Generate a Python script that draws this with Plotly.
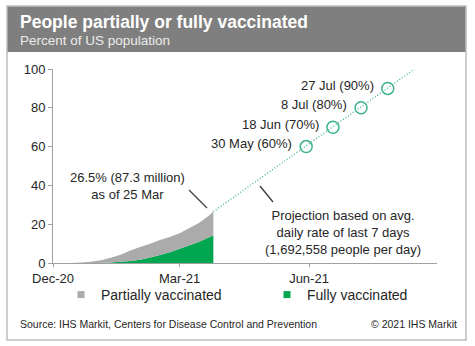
import plotly.graph_objects as go

# ---- data ----
dates = ["2020-12-14", "2020-12-21", "2020-12-28", "2021-01-04", "2021-01-11", "2021-01-18",
         "2021-01-25", "2021-02-01", "2021-02-08", "2021-02-15", "2021-02-22", "2021-03-01",
         "2021-03-08", "2021-03-15", "2021-03-22", "2021-03-25"]
total_pct = [0.0, 0.2, 0.6, 1.4, 2.7, 4.3, 6.5, 8.3, 9.9, 11.9, 13.4, 15.3, 18.0, 20.7, 24.5, 26.5]
fully_pct = [0.0, 0.0, 0.0, 0.0, 0.2, 0.6, 1.0, 1.7, 2.8, 4.1, 5.5, 7.4, 9.2, 11.0, 13.3, 14.3]
partial_pct = [round(t - f, 2) for t, f in zip(total_pct, fully_pct)]

proj_dates = ["2021-03-25", "2021-08-15"]
proj_pct = [26.5, 100]

milestone_dates = ["2021-05-30", "2021-06-18", "2021-07-08", "2021-07-27"]
milestone_pct = [60, 70, 80, 90]
milestone_labels = ["30 May (60%)", "18 Jun (70%)", "8 Jul (80%)", "27 Jul (90%)"]

x_tick_dates = ["2020-12-01", "2021-03-01", "2021-06-01"]
x_tick_text = ["Dec-20", "Mar-21", "Jun-21"]
y_ticks = [0, 20, 40, 60, 80, 100]

GRAY = "#ababab"
GREEN = "#00a650"
PROJ = "#3db38a"
FONT = "Liberation Sans, Arial, sans-serif"
TXT = "#262626"

# plot area in pixels
L, R, T, B = 53, 437, 69, 263
W, H = 475, 346
def PX(x): return (x - L) / (R - L)
def PY(y): return (B - y) / (B - T)

fig = go.Figure()
fig.add_trace(go.Scatter(x=dates, y=fully_pct, stackgroup="v", mode="none",
                         fillcolor=GREEN, name="Fully vaccinated", showlegend=False))
fig.add_trace(go.Scatter(x=dates, y=partial_pct, stackgroup="v", mode="none",
                         fillcolor=GRAY, name="Partially vaccinated", showlegend=False))
fig.add_trace(go.Scatter(x=proj_dates, y=proj_pct, mode="lines",
                         line=dict(color=PROJ, width=1.3, dash="1px,2px"), showlegend=False))
fig.add_trace(go.Scatter(x=milestone_dates, y=milestone_pct, mode="markers",
                         marker=dict(symbol="circle-open", size=12, color=PROJ,
                                     line=dict(width=1.5, color=PROJ)), showlegend=False))
for d, v, t in zip(milestone_dates, milestone_pct, milestone_labels):
    fig.add_annotation(x=d, y=v, text=t, showarrow=False, xanchor="right", yanchor="middle",
                       xshift=-12, yshift=3, font=dict(family=FONT, size=13, color=TXT))

# legend entries (one per legend box)
fig.add_trace(go.Scatter(x=[None], y=[None], mode="markers", name="Partially vaccinated",
                         marker=dict(symbol="square", size=7, color=GRAY), legend="legend"))
fig.add_trace(go.Scatter(x=[None], y=[None], mode="markers", name="Fully vaccinated",
                         marker=dict(symbol="square", size=7, color=GREEN), legend="legend2"))

shapes = [
    dict(type="rect", xref="paper", yref="paper", x0=PX(7), x1=PX(466), y0=PY(52), y1=PY(6),
         fillcolor="#7f7f7f", line=dict(width=0), layer="below"),
    dict(type="rect", xref="paper", yref="paper", x0=PX(7), x1=PX(466), y0=PY(340), y1=PY(6),
         fillcolor="rgba(0,0,0,0)", line=dict(width=1.5, color="#bdbdbd")),
    dict(type="line", xref="paper", yref="paper", x0=PX(189), y0=PY(190), x1=PX(207), y1=PY(208),
         line=dict(color="#404040", width=1.3)),
    dict(type="line", xref="paper", yref="paper", x0=PX(260), y0=PY(186), x1=PX(273), y1=PY(202),
         line=dict(color="#404040", width=1.3)),
]

ann = [
    dict(x=PX(18), y=PY(22), text="<b>People partially or fully vaccinated</b>", xanchor="left",
         yanchor="middle", font=dict(family=FONT, size=17.5, color="white")),
    dict(x=PX(18), y=PY(40), text="Percent of US population", xanchor="left",
         yanchor="middle", font=dict(family=FONT, size=13.5, color="#ececec")),
    dict(x=PX(127), y=PY(186), text="26.5% (87.3 million)<br>as of 25 Mar", xanchor="center",
         yanchor="middle", font=dict(family=FONT, size=13, color=TXT)),
    dict(x=PX(343), y=PY(232), text="Projection based on avg.<br>daily rate of last 7 days<br>(1,692,558 people per day)",
         xanchor="center", yanchor="middle", font=dict(family=FONT, size=13, color=TXT)),
    dict(x=PX(18), y=PY(324), text="Source: IHS Markit, Centers for Disease Control and Prevention",
         xanchor="left", yanchor="middle", font=dict(family=FONT, size=10.5, color=TXT)),
    dict(x=PX(459), y=PY(324), text="© 2021 IHS Markit", xanchor="right",
         yanchor="middle", font=dict(family=FONT, size=10.5, color=TXT)),
]
for a in ann:
    a.update(xref="paper", yref="paper", showarrow=False)

leg_common = dict(orientation="h", yanchor="middle", y=PY(295), xanchor="left",
                  font=dict(family=FONT, size=14, color=TXT), itemwidth=30,
                  bgcolor="rgba(0,0,0,0)")

fig.update_layout(
    width=W, height=H,
    margin=dict(l=L, r=W - R, t=T, b=H - B),
    paper_bgcolor="white", plot_bgcolor="white",
    shapes=shapes, annotations=list(fig.layout.annotations) + ann,
    showlegend=True,
    legend=dict(x=PX(61), **leg_common),
    legend2=dict(x=PX(267), **leg_common),
    font=dict(family=FONT, color=TXT),
)
fig.update_xaxes(range=["2020-12-01", "2021-08-31"], tickvals=x_tick_dates, ticktext=x_tick_text,
                 showgrid=False, zeroline=False, showline=True, linecolor="#a0a0a0", linewidth=1,
                 ticks="outside", ticklen=3, tickcolor="#a0a0a0",
                 tickfont=dict(family=FONT, size=13, color=TXT))
fig.update_yaxes(range=[0, 100], tickvals=y_ticks, showgrid=False, zeroline=False,
                 showline=True, linecolor="#a0a0a0", linewidth=1, ticks="outside", ticklen=4,
                 tickcolor="#a0a0a0", tickfont=dict(family=FONT, size=13, color=TXT))

fig.write_html("out.html")
